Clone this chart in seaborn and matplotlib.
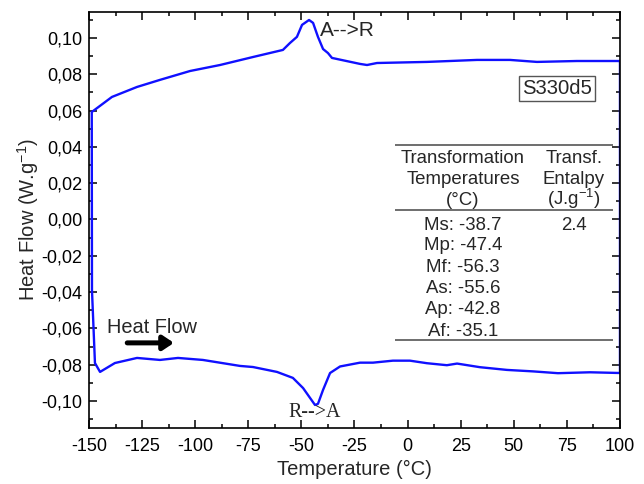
import numpy as np
import pandas as pd
import matplotlib
matplotlib.use("Agg")
import matplotlib.pyplot as plt
from matplotlib.ticker import MultipleLocator, FuncFormatter
import seaborn as sns

# ---- data ----
# cooling branch (upper), listed left -> right
T_up = [-148.7, -139.2, -127.4, -116.6, -102.4, -88.3, -72.8, -58.7, -55.4, -52.1,
        -49.7, -46.4, -44.5, -42.2, -39.8, -37.5, -35.6, -22.4, -19.1, -14.4,
        9.1, 32.7, 48.2, 60.9, 79.7, 100.0]
HF_up = [0.0592, 0.0675, 0.0730, 0.0769, 0.0818, 0.0851, 0.0895, 0.0934, 0.0972, 0.1006,
         0.1072, 0.1099, 0.1083, 0.1006, 0.0939, 0.0917, 0.0890, 0.0857, 0.0851, 0.0862,
         0.0868, 0.0879, 0.0879, 0.0868, 0.0873, 0.0873]
# drop at lowest temperature
T_drop = [-148.6, -147.2]
HF_drop = [-0.0390, -0.0791]
# heating branch (lower), left -> right
T_lo = [-144.8, -137.8, -127.4, -116.6, -108.1, -96.4, -78.9, -72.8, -61.5, -54.0,
        -49.2, -43.6, -42.2, -39.8, -36.5, -31.8, -22.4, -16.3, -6.9, 1.1,
        9.1, 18.5, 23.3, 34.1, 46.8, 59.0, 70.8, 85.9, 100.0]
HF_lo = [-0.0840, -0.0791, -0.0763, -0.0774, -0.0763, -0.0774, -0.0807, -0.0813, -0.0840, -0.0873,
         -0.0929, -0.1022, -0.1016, -0.0939, -0.0846, -0.0810, -0.0789, -0.0789, -0.0778, -0.0778,
         -0.0792, -0.0803, -0.0794, -0.0814, -0.0829, -0.0837, -0.0847, -0.0842, -0.0846]

x_ticks = [-150, -125, -100, -75, -50, -25, 0, 25, 50, 75, 100]
y_ticks = [-0.10, -0.08, -0.06, -0.04, -0.02, 0.00, 0.02, 0.04, 0.06, 0.08, 0.10]

table_header_1 = ["Transformation", "Temperatures", "(°C)"]
table_header_2 = ["Transf.", "Entalpy", "(J.g$^{-1}$)"]
table_rows = ["Ms: -38.7", "Mp: -47.4", "Mf: -56.3", "As: -55.6", "Ap: -42.8", "Af: -35.1"]
table_enthalpy = ["2.4"]

# ---- build the closed loop in drawing order ----
T_all = T_up[::-1] + T_drop + T_lo + [T_up[-1]]
HF_all = HF_up[::-1] + HF_drop + HF_lo + [HF_up[-1]]
df = pd.DataFrame({"T": T_all, "HF": HF_all, "order": np.arange(len(T_all))})

sns.set_style("ticks")
plt.rcParams["font.family"] = ["Liberation Sans", "DejaVu Sans"]
plt.rcParams["axes.unicode_minus"] = False
plt.rcParams["mathtext.fontset"] = "custom"
plt.rcParams["mathtext.rm"] = "Liberation Sans"

fig = plt.figure(figsize=(6.44, 4.84), dpi=100)
ax = fig.add_axes([0.1382, 0.1157, 0.8245, 0.8595])

sns.lineplot(data=df, x="T", y="HF", sort=False, estimator=None, color="#1010ff",
             linewidth=1.7, ax=ax)

ax.set_xlim(-150, 100)
ax.set_ylim(-0.1149, 0.1143)
ax.set_xticks(x_ticks)
ax.set_yticks(y_ticks)
ax.xaxis.set_minor_locator(MultipleLocator(12.5))
ax.yaxis.set_minor_locator(MultipleLocator(0.01))
ax.yaxis.set_major_formatter(FuncFormatter(lambda v, p: ("%.2f" % (round(v, 2) + 0.0)).replace(".", ",")))
ax.xaxis.set_major_formatter(FuncFormatter(lambda v, p: "%d" % round(v)))
ax.tick_params(which="both", direction="in", top=True, right=True, colors="black",
               labelsize=13, width=1.1)
ax.tick_params(which="major", length=6)
ax.tick_params(which="minor", length=3)
ax.tick_params(axis="x", which="major", pad=7)
ax.tick_params(axis="y", which="major", pad=5)
for s in ax.spines.values():
    s.set_linewidth(1.2)
    s.set_color("black")

ax.set_xlabel("Temperature (°C)", fontsize=14.5, labelpad=4)
ax.set_ylabel("Heat Flow (W.g$^{-1}$)", fontsize=14.5, labelpad=0)

# annotations
ax.text(-28.5, 0.1040, "A-->R", ha="center", va="center", fontsize=15)
ax.text(-43.6, -0.1062, "R-->A", ha="center", va="center", fontsize=14.4,
        family=["Liberation Serif", "DejaVu Serif"])
ax.text(70.3, 0.0722, "S330d5", ha="center", va="center", fontsize=14.6,
        bbox=dict(boxstyle="square,pad=0.15", fc="white", ec="#555555", lw=1))
ax.text(-141.5, -0.0598, "Heat Flow", ha="left", va="center", fontsize=14.4)
ax.annotate("", xy=(-110.0, -0.0680), xytext=(-132, -0.0680),
            arrowprops=dict(arrowstyle="-|>,head_length=0.45,head_width=0.3",
                            lw=3.6, color="black", mutation_scale=14,
                            shrinkA=0, shrinkB=0))

# table
ax.hlines([0.041, 0.0052, -0.0664], -5.9, 96.7, color="#555555", lw=1.2)
head_y = [0.0313, 0.0196, 0.0080]
for t, y in zip(table_header_1, head_y):
    ax.text(26.1, y, t, ha="center", va="baseline", fontsize=13.4)
for t, y in zip(table_header_2, head_y):
    ax.text(78.3, y, t, ha="center", va="baseline", fontsize=13.4)
row_y = [-0.0058, -0.0168, -0.0288, -0.0407, -0.0522, -0.0640]
for t, y in zip(table_rows, row_y):
    ax.text(26.1, y, t, ha="center", va="baseline", fontsize=13.4)
for t, y in zip(table_enthalpy, row_y):
    ax.text(78.3, y, t, ha="center", va="baseline", fontsize=13.4)

fig.savefig("out.png", dpi=100)
